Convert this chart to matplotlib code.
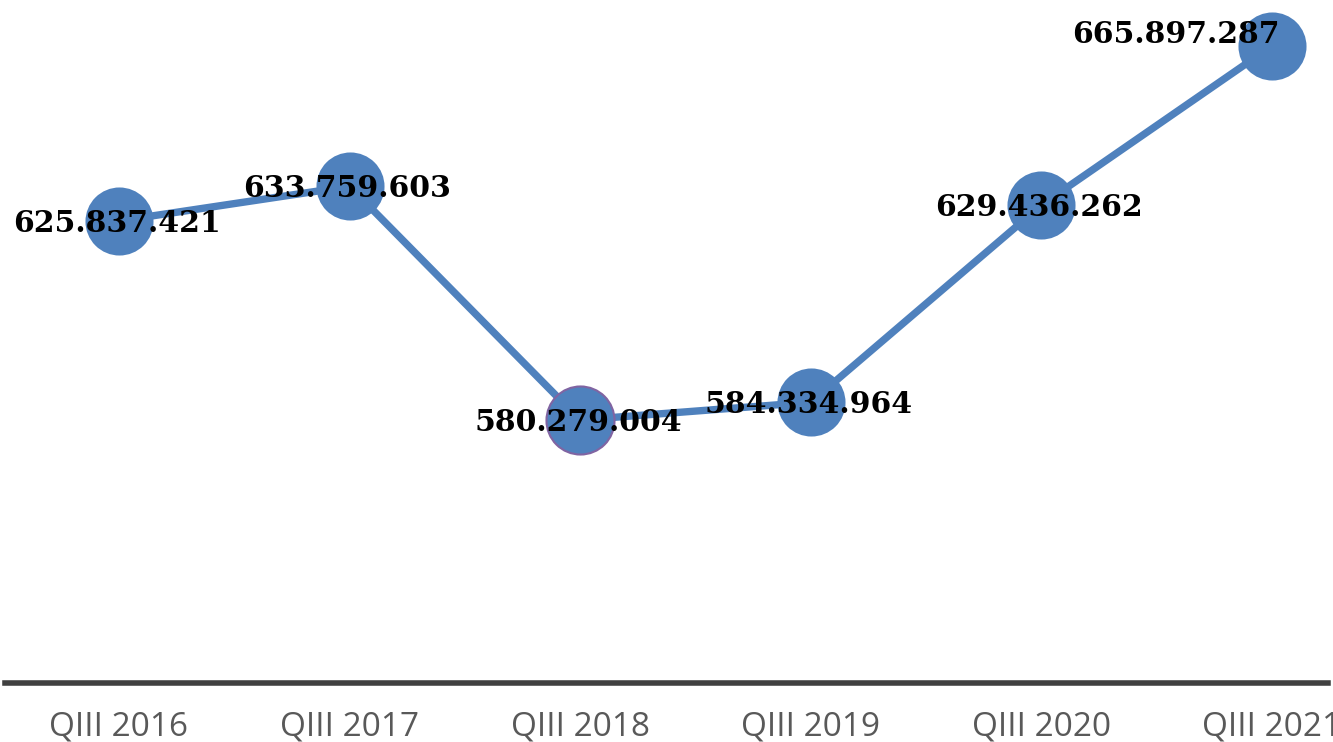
import matplotlib
matplotlib.use("Agg")
from matplotlib import pyplot as plt

quarters = ["QIII 2016", "QIII 2017", "QIII 2018", "QIII 2019", "QIII 2020", "QIII 2021"]
values = [625837421, 633759603, 580279004, 584334964, 629436262, 665897287]

blue = "#4F81BD"

fig = plt.figure(figsize=(13.33, 7.42), dpi=100)
ax = fig.add_axes([5 / 1333, 59 / 742, 1323 / 1333, 683 / 742])

x = list(range(len(values)))
ax.plot(x, values, color=blue, lw=5.3, zorder=2, solid_capstyle="round")
for i, v in enumerate(values):
    edge = "#8064A2" if i == 2 else blue
    ax.plot(i, v, "o", ms=49, color=blue, mec=edge, mew=1.5 if i == 2 else 0, zorder=3)

for i, v in enumerate(values):
    label = f"{v:,}".replace(",", ".")
    dx, dy = (-96, 3) if i == len(values) - 1 else (-2, -11)
    ax.annotate(label, (i, v), xytext=(dx, dy), textcoords="offset pixels",
                ha="center", va="baseline", fontsize=21.5, fontweight="bold",
                family="DejaVu Serif", color="black", zorder=4,
                annotation_clip=False)

ax.set_xlim(-0.494, 5.243)
ax.set_ylim(520.07e6, 676.4e6)
ax.set_xticks(x)
ax.set_xticklabels(quarters, family="Open Sans", fontsize=24, color="#595959")
ax.tick_params(axis="x", length=0, pad=20)
ax.set_yticks([])
for s in ["top", "right", "left"]:
    ax.spines[s].set_visible(False)
ax.spines["bottom"].set_color("#404040")
ax.spines["bottom"].set_linewidth(4)

fig.savefig("out.png", dpi=100)
